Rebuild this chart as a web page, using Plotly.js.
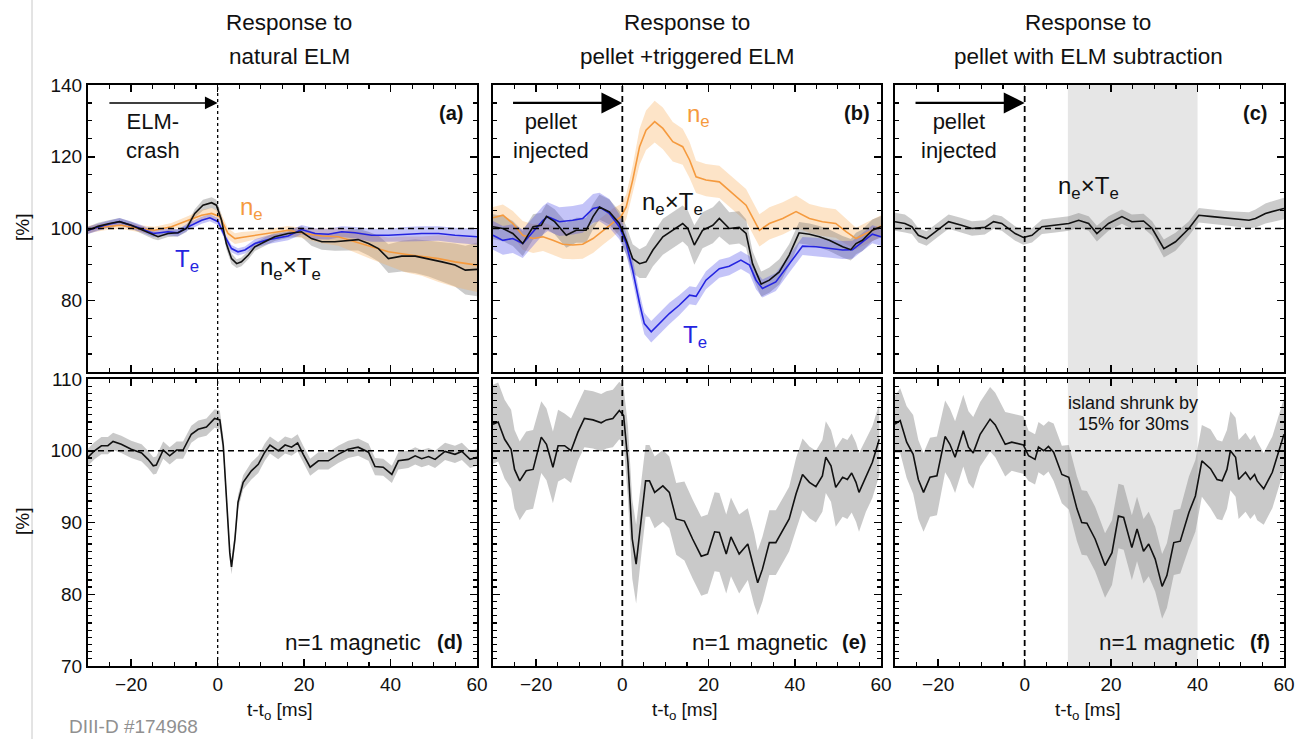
<!DOCTYPE html>
<html><head><meta charset="utf-8">
<script src="https://cdn.plot.ly/plotly-3.0.1.min.js"></script>
<style>html,body{margin:0;padding:0;background:#fff}#chart{width:1307px;height:739px}</style>
</head><body><div id="chart"></div>
<script>
// ---------------- DATA ----------------
// Panel (a): natural ELM
const aPx = [-30,-27.7,-25,-22.7,-20,-17.3,-14.9,-13.8,-11.5,-9.2,-7.2,-5.3,-3.4,-1.4,-0.3,0.9,2,3.2,4.4,5.5,7.1,8.6,10.9,13.2,16.3,19.4,21.7,24.1,27.1,30.2,32.5,34.9,37.2,39.5,42.6,45.7,48.8,51.9,54.9,57.3,60];
const aPy = [99.5,100.6,101.4,101.9,100.9,99.5,98.1,97.7,98.6,98.8,100,104.2,106.5,107.2,106.5,102.3,95.8,91.6,90.2,90.7,92.6,94.9,96.3,97.7,98.6,99.1,97.2,96.3,96.3,96.7,96.9,95.8,94.4,91.6,92.3,92.3,91.6,90.7,89.8,88.4,88.6];
const aPe = [1,1,1,1,1,1,1,1,1,1,1,1.2,1.5,1.5,1.5,1.5,1.5,1.5,1.2,1.2,1.2,1.2,1.2,1.2,1.2,1.5,2,2.2,2.5,2.8,3,3.3,3.6,4,4.3,4.7,5,5.5,6,6.8,7.5];
const aNx = [-30,-26.1,-22.3,-18.4,-14.6,-10.7,-6.8,-3.7,-1.4,0.5,2.4,4,5.5,8.6,12.5,16.3,20.2,24.1,27.9,31.8,35.6,39.5,43.4,47.2,51.1,54.9,60];
const aNy = [99.7,100.5,100.9,100,99.5,100.5,102.3,103.7,104.2,103.3,98.6,97.2,97.5,98.1,98.8,99.5,98.6,97.9,97.7,96.3,94.9,93.5,92.8,92.3,91.6,90.7,89.8];
const aNe = [1,1,1,1,1,1,1.2,1.5,1.5,1.5,1.5,1.5,1.5,1.2,1.2,1.2,1.5,2,2.5,3,3.5,4,5,5.5,6.5,7,7.5];
const aTx = [-30,-26.1,-22.7,-18.4,-14.9,-11.5,-9.2,-6.8,-3.7,-1.8,0.1,1.7,3.2,4.7,6.3,8.6,11.7,16.3,19.4,22.5,25.6,28.7,31.8,35.6,39.5,43.4,47.2,51.1,54.9,60];
const aTy = [99.5,100.9,101.9,100.3,98.6,99.1,98.8,100.5,102.3,103,101.9,97.7,94.4,93.5,94,95.8,96.9,97.9,99.7,98.6,98.4,99.1,98.8,98.1,98.1,98.4,98.6,98.6,98.1,97.7];
const aTe = [1,1,1,1,1,1,1,1,1,1,1,1,1,1,1,1.2,1.2,1.2,1.3,1.5,1.5,1.5,1.6,1.8,1.8,2,2,2,2.1,2.2];

// Panel (b): pellet + triggered ELM
const bNx = [-30,-27.7,-25.4,-23.1,-20.7,-18.4,-16.1,-13.8,-11.5,-9.2,-6.8,-4.5,-2.2,-0.3,0.9,2.4,4,5.5,7.5,9.4,11.7,14,15.6,17.1,19.4,22.5,25.6,28.7,31.8,34.1,37.2,40.3,43.4,46.4,49.5,51.9,54.2,57.3,60];
const bNy = [103,103.7,101.4,98.1,97.2,97.7,96.7,95.6,95.4,95.6,97.2,99.5,101.6,103.3,106,113.5,122.8,127.4,129.8,127.9,124.2,122.8,119.1,114.4,113.5,113,109.8,106.5,99.5,101.4,102.8,104.7,102.8,101.9,101.4,99.1,97.2,99.1,100.7];
const bNe = [3,3,3.5,4,4,4,4,4,4,4,4,4,4,3.5,3.5,4,5,5.5,5.8,5.8,5.5,5,5,4.5,4.5,4.5,4.5,4.5,4.5,4.5,4.5,4.5,4,4,4,3.5,3,3,3];
const bTx = [-30,-27.7,-25.4,-23.1,-20.7,-18.4,-17.3,-14.6,-11.5,-9.2,-6.8,-5.3,-3,-0.7,0.9,2.4,4,5.1,6.7,8.6,10.9,13.2,15.6,17.1,19.4,22.5,24.8,27.5,29.5,31,32.5,35.6,38.7,41.8,44.9,48,51.1,53.4,55.7,58,60];
const bTy = [98.1,96.7,97.2,95.8,99.1,102.3,103.3,101.9,102.3,102.8,105.6,106,104.2,100.5,95.8,88.4,79.1,73.5,71.2,73.5,76.3,78.6,81.4,81.1,85.6,88.8,89.5,91.2,89.8,85.6,83.3,85.1,90.2,95.1,94.9,94.4,94,94.1,96.3,98.4,97.7];
const bTe = [4,4,4,4,4,4,4,4,4,4,4,4,4,3.5,3,3,3,3,3,3,3,2.8,2.5,2.5,2.5,2.5,2.5,2.5,2.5,2.5,2.5,2.5,2.5,2.5,2.5,2.5,2.5,2.5,2.5,2.5,2.5];
const bPx = [-30,-27.7,-25.4,-23.1,-20.7,-18.8,-17.6,-15.7,-13,-10.7,-8.4,-6.8,-5.3,-3,-0.7,0.9,2.4,4,5.5,7.1,9.4,11.7,14,15.2,16.7,18.6,21,22.5,24.8,27.1,28.7,30.2,32.2,34.1,36.4,38.7,41,43.4,45.7,48,51.1,53,54.2,55.7,58,60];
const bPy = [100.5,100,98.6,95.8,100.5,100.9,103.4,101.9,98.1,99.5,99.5,103.3,106,104.6,101.4,96.7,91.6,90.2,90.7,94,97.7,99.5,101.4,100,95.4,99.5,100.9,102.8,100,100.3,98.6,90.2,84.5,85.6,87.9,92.6,98.8,98.4,97.7,96.7,94.9,94.1,95.8,96.7,99.5,100.5];
const bPe = [3.5,3.5,3.5,3.5,3.5,3.5,3.5,3.5,3.5,3.5,3.5,3.5,3.5,3.5,3.5,4,4,4,4.5,4.5,5,5,5,5,5.5,5,5,5,4.5,4.5,4,3.5,3.5,3.5,3.5,3,3,3,3,3,3,3,3,3,3,3];

// Panel (c): pellet with ELM subtraction
const cPx = [-30,-27.7,-26.1,-24.6,-22.7,-20.7,-17.6,-14.6,-12.2,-9.2,-7.2,-5.3,-2.2,-0.3,1.7,4,7.1,10.2,12.5,14.8,16.7,19.4,22.5,24.8,27.5,29.5,32.2,34.9,38,40.3,43.4,47.2,51.9,53.4,55.7,60];
const cPy = [101.9,101.4,100.5,98.1,97.2,99.1,101.9,100.9,100,100.3,101.9,101.4,98.6,97.5,98.1,100.5,100.9,101.4,102.3,101.4,98.6,101.4,103.3,101.9,102.1,100,94.4,96.3,100,103.7,103.3,102.8,102.3,102.8,104.2,105.6];
const cPe = [2.5,2.5,2,2,2,2,2,2,2,2,2,2,2,2,2,2,2,2,2,2,2.2,2,2,2,2,2,2.5,2.5,2,2,2,2,2.2,2.5,2.8,3];

// Panel (d): n=1 magnetic, natural ELM
const dX = [-30,-28.5,-26.9,-25.4,-24.2,-22.3,-20,-17.6,-16.1,-14.9,-14.2,-12.6,-11.1,-9.5,-8,-6.1,-4.5,-2.6,-0.7,0.5,1.3,2,2.8,3.2,4,4.7,5.9,7.8,9.4,10.9,12.1,14,15.6,17.1,18.5,19.8,21.4,23.3,25.6,27.9,30.2,32.5,34.9,36.4,38.3,40.3,41.8,44.1,45.7,47.2,48.8,50.3,52.6,54.9,56.5,58.4,60];
const dY = [99.1,100,100.7,100.7,101.3,100.9,100.2,99.7,98.8,97.9,98,100.1,99.3,100.1,100.1,102.3,103,103.3,104.5,104.3,100.7,93.7,85.8,83.8,87.7,92.8,95.6,97.2,98.1,99.8,100.8,100,100.8,100.5,101.1,99.5,97.7,98.6,98.6,99.5,100.2,100.5,99.8,97.8,97.7,96.7,98.6,98.8,99.3,98.9,99.2,98.8,99.9,99.5,99.9,98.8,99.1];
const dE = [1.2,1.2,1.2,1.2,1.2,1.2,1.2,1.2,1.2,1.2,1.2,1.2,1.2,1.2,1.2,1.2,1.2,1.2,1.3,1.3,1.2,1,1,1,1,1,1,1.2,1.2,1.2,1.2,1.2,1.2,1.2,1.2,1.2,1.2,1.2,1.2,1.2,1.2,1.2,1.2,1.2,1.2,1.2,1.2,1.2,1.2,1.2,1.2,1.2,1.2,1.2,1.2,1.2,1.2];

// Panel (e): n=1 magnetic, pellet + triggered ELM
const eX = [-30,-28.8,-27.3,-25.8,-25,-23.8,-22.3,-20.7,-18.8,-17.6,-16.1,-14.9,-13.4,-11.9,-10.3,-8.8,-6.8,-4.9,-3.7,-2.2,-0.7,0.3,1.3,2.3,3.2,4.4,5.4,6.3,7.5,9.4,10.9,12.5,14.4,16.3,18.3,19.8,21.4,22.5,24.1,25.2,27.1,29.1,30.6,31.4,32.5,34.1,35.6,37.6,38.7,40.3,41.8,43.4,44.9,46.4,47.2,48.4,49.5,51.1,52.2,53.2,54.2,54.9,56.5,58,59.6];
const eY = [103.7,104,101.6,100.2,97.4,95.8,97.2,97.4,101.9,100.9,97.7,100.7,100.7,100,102.6,104.5,104.3,103.9,104.3,104.5,105.6,104.9,98.4,87.7,84.2,90.5,95.8,95.8,94.2,95.1,94.2,90.5,90.2,87.7,85.3,85.6,88.7,88.6,85.6,88,85.6,87,83.5,81.6,83.5,87.2,87.2,89.3,90.5,94,96.7,95.6,95,96.5,99.1,97.9,94.9,96.3,96,96.9,95.6,94.2,96.5,98.4,101.6];
const eE = [5.5,5.5,5.5,5.5,5.5,5.5,5.5,5.5,5,5,5,5,4.5,4.5,4,4,4,4,4,4,4,4,5,5.5,5.5,5,5,5,5,5,5,5,5.5,5.5,5.5,5.5,5.5,5.5,5.5,5.5,5.5,5,5,4.5,4.5,4.5,4.5,4.5,4.5,5,5,5,5,5,5,5,5.5,5.5,5.5,5.5,5.5,5.5,5,5,5];

// Panel (f): n=1 magnetic, pellet with ELM subtraction
const fX = [-30,-28.8,-27.3,-25.8,-24.6,-23.4,-21.9,-20.3,-18.4,-17.3,-16.1,-14.2,-13,-11.9,-10.3,-8,-6.8,-4.5,-3,-0.3,0.9,2.4,3.2,4.4,5.5,6.7,8.6,10.2,12.1,13.2,14.4,16.3,18.6,20.2,21.7,22.9,24.8,26,27.5,28.7,30.2,31.8,32.9,34.5,36,38,39.5,41,43,44.5,45.7,46.8,47.6,48.8,49.5,51.1,52.2,53.2,53.8,55.3,57.3,58.8,60];
const fY = [103.7,104.2,101.2,99.5,96,94.2,96.3,96.5,102,100.9,99.1,102.8,100.5,99.7,102.3,104.4,103.6,100.9,101.2,100.8,99.3,98.8,100.5,100,100.6,99.8,96.7,96.3,91.9,90,89.9,87.7,84,85.8,90.9,90.7,86.5,89.1,86,87,84.9,81.1,82.6,87.2,87.4,91.4,93.7,98.6,97.5,96,95.8,97.4,100,99.1,96,97,96,96.7,95.8,94.7,97,99.8,102.3];
const fE = [4,4.5,5,5.5,5.5,5.5,5.5,5.5,5,5,5,5,5,5,4.5,4.5,4.5,4.5,4,4,3.5,3.5,3.5,3.5,3.5,4,4,4.5,4.5,4.5,4.5,4.5,4.5,4.5,4.5,4.5,4.5,4.5,4.5,4.5,4.5,4.5,4.5,4.5,4.5,5,5,5,5.5,5.5,5.5,5.5,5.5,5.5,5.5,5.5,5.5,5.5,5.5,5,5,5,5];

const xRange = [-30, 60];
const topRange = [60, 140], topTicks = [80, 100, 120, 140];
const botRange = [70, 110], botTicks = [70, 80, 90, 100, 110];
const shrinkWindow = [10, 40];

// ---------------- STYLE / LAYOUT ----------------
const W = 1307, H = 739;
const PX = v => v / W, PY = v => 1 - v / H;
const FONT = 'Liberation Sans, Arial, Helvetica, sans-serif';
const ORANGE = '#f59a3e', ORANGE_F = 'rgba(250,172,88,0.33)';
const BLUE = '#2424e0', BLUE_F = 'rgba(60,60,232,0.30)';
const BLACK = '#111111', GRAY_F = 'rgba(110,110,110,0.36)', GRAY_F2 = 'rgba(135,135,135,0.45)';

function band(x, y, e, xa, ya, color) {
  const up = y.map((v, i) => v + e[i]);
  const lo = y.map((v, i) => v - e[i]);
  return {x: x.concat(x.slice().reverse()), y: up.concat(lo.slice().reverse()),
    xaxis: xa, yaxis: ya, type: 'scatter', mode: 'lines', fill: 'toself', fillcolor: color,
    line: {width: 0}, hoverinfo: 'skip', showlegend: false};
}
function curve(x, y, xa, ya, color, w) {
  return {x: x, y: y, xaxis: xa, yaxis: ya, type: 'scatter', mode: 'lines',
    line: {color: color, width: w || 1.6}, showlegend: false};
}

const traces = [
  band(aPx, aPy, aPe, 'x', 'y', GRAY_F), band(aNx, aNy, aNe, 'x', 'y', ORANGE_F), band(aTx, aTy, aTe, 'x', 'y', BLUE_F),
  curve(aNx, aNy, 'x', 'y', ORANGE), curve(aTx, aTy, 'x', 'y', BLUE), curve(aPx, aPy, 'x', 'y', BLACK),
  band(bNx, bNy, bNe, 'x2', 'y2', ORANGE_F), band(bPx, bPy, bPe, 'x2', 'y2', GRAY_F), band(bTx, bTy, bTe, 'x2', 'y2', BLUE_F),
  curve(bNx, bNy, 'x2', 'y2', ORANGE), curve(bTx, bTy, 'x2', 'y2', BLUE), curve(bPx, bPy, 'x2', 'y2', BLACK),
  band(cPx, cPy, cPe, 'x3', 'y3', GRAY_F), curve(cPx, cPy, 'x3', 'y3', BLACK),
  band(dX, dY, dE, 'x4', 'y4', GRAY_F2), curve(dX, dY, 'x4', 'y4', BLACK),
  band(eX, eY, eE, 'x5', 'y5', GRAY_F2), curve(eX, eY, 'x5', 'y5', BLACK),
  band(fX, fY, fE, 'x6', 'y6', GRAY_F2), curve(fX, fY, 'x6', 'y6', BLACK)
];

const xDom = [[88, 477], [493, 881], [895, 1284]];
const yDomTop = [PY(372), PY(85)], yDomBot = [PY(666), PY(379)];
const tickFont = {family: FONT, size: 19, color: '#111'};

function xAxis(i, anchor, labels) {
  return {domain: [PX(xDom[i][0]), PX(xDom[i][1])], anchor: anchor, range: xRange,
    tick0: 0, dtick: 20, ticks: 'inside', ticklen: 7, tickwidth: 1.5, tickcolor: '#000',
    showline: true, linewidth: 2, linecolor: '#000', mirror: 'ticks', showgrid: false, zeroline: false,
    showticklabels: labels, tickfont: tickFont, fixedrange: true,
    minor: {dtick: 5, tick0: 0, ticks: 'inside', ticklen: 4, tickwidth: 1.2, tickcolor: '#000', showgrid: false}};
}
function yAxis(dom, anchor, range, vals, mdt, labels) {
  return {domain: dom, anchor: anchor, range: range, tickmode: 'array', tickvals: vals,
    ticks: 'inside', ticklen: 7, tickwidth: 1.5, tickcolor: '#000',
    showline: true, linewidth: 2, linecolor: '#000', mirror: 'ticks', showgrid: false, zeroline: false,
    showticklabels: labels, tickfont: tickFont, fixedrange: true,
    minor: {dtick: mdt, tick0: 0, ticks: 'inside', ticklen: 4, tickwidth: 1.2, tickcolor: '#000', showgrid: false}};
}

const shapes = [];
// grey time window in (c) and (f)
[['x3', 'y3'], ['x6', 'y6']].forEach(([xa, ya]) => {
  shapes.push({type: 'rect', xref: xa, yref: ya + ' domain', x0: shrinkWindow[0], x1: shrinkWindow[1], y0: 0, y1: 1,
    fillcolor: '#e6e6e6', line: {width: 0}, layer: 'below'});
});
// reference lines
const axPairs = [['x', 'y'], ['x2', 'y2'], ['x3', 'y3'], ['x4', 'y4'], ['x5', 'y5'], ['x6', 'y6']];
axPairs.forEach(([xa, ya], i) => {
  const thin = (i === 0 || i === 3);
  shapes.push({type: 'line', xref: xa + ' domain', yref: ya, x0: 0, x1: 1, y0: 100, y1: 100,
    line: {color: '#000', width: 1.5, dash: '6px,4px'}});
  shapes.push({type: 'line', xref: xa, yref: ya + ' domain', x0: 0, x1: 0, y0: 0, y1: 1,
    line: {color: '#000', width: thin ? 1.3 : 1.8, dash: thin ? '3px,3px' : '6px,4px'}});
});
// page margin line
shapes.push({type: 'line', xref: 'paper', yref: 'paper', x0: PX(32), x1: PX(32), y0: 0, y1: 1,
  line: {color: '#c8c8c8', width: 1}});

function txt(x, y, text, size, opts) {
  return Object.assign({xref: 'paper', yref: 'paper', x: PX(x), y: PY(y), text: text, showarrow: false,
    xanchor: 'center', yanchor: 'middle', font: {family: FONT, size: size, color: '#111'}}, opts || {});
}
const NE = 'n<sub>e</sub>', TE = 'T<sub>e</sub>', NETE = 'n<sub>e</sub>×T<sub>e</sub>';
const annotations = [
  txt(289, 23, 'Response to', 22.5), txt(289, 57, 'natural ELM', 22.5),
  txt(687, 23, 'Response to', 22.5), txt(687, 57, 'pellet +triggered ELM', 22.5),
  txt(1088, 23, 'Response to', 22.5), txt(1088, 57, 'pellet with ELM subtraction', 22.5),
  txt(153, 136, 'ELM-<br>crash', 22), txt(551, 136, 'pellet<br>injected', 22), txt(959, 136, 'pellet<br>injected', 22),
  txt(451, 113, '<b>(a)</b>', 20), txt(857, 113, '<b>(b)</b>', 20), txt(1255, 113, '<b>(c)</b>', 20),
  txt(251, 208, NE, 24, {font: {family: FONT, size: 24, color: ORANGE}}),
  txt(187, 260, TE, 24, {font: {family: FONT, size: 24, color: BLUE}}),
  txt(290, 268, NETE, 24),
  txt(698, 115, NE, 24, {font: {family: FONT, size: 24, color: ORANGE}}),
  txt(672, 203, NETE, 24),
  txt(695, 336, TE, 24, {font: {family: FONT, size: 24, color: BLUE}}),
  txt(1088, 188, NETE, 24),
  txt(423, 642, 'n=1 magnetic', 22.5, {xanchor: 'right'}), txt(450, 642, '<b>(d)</b>', 20),
  txt(830, 642, 'n=1 magnetic', 22.5, {xanchor: 'right'}), txt(854, 642, '<b>(e)</b>', 20),
  txt(1237, 642, 'n=1 magnetic', 22.5, {xanchor: 'right'}), txt(1260, 642, '<b>(f)</b>', 20),
  txt(1133, 403, 'island shrunk by', 18), txt(1133, 424, '15% for 30ms', 18),
  txt(279, 711, 't-t<sub>o</sub> [ms]', 19), txt(684, 711, 't-t<sub>o</sub> [ms]', 19), txt(1087, 711, 't-t<sub>o</sub> [ms]', 19),
  txt(22, 228, '[%]', 19, {textangle: -90}), txt(22, 522, '[%]', 19, {textangle: -90}),
  txt(67, 726, 'DIII-D #174968', 19, {xanchor: 'left', font: {family: FONT, size: 19, color: '#909090'}}),
  // arrows
  {xref: 'x', yref: 'y', axref: 'x', ayref: 'y', x: 0, y: 135, ax: -25.4, ay: 135, text: '', showarrow: true,
    arrowhead: 2, arrowsize: 1.7, arrowwidth: 1.5, arrowcolor: '#000', standoff: 0},
  {xref: 'x2', yref: 'y2', axref: 'x2', ayref: 'y2', x: 0, y: 135, ax: -25.7, ay: 135, text: '', showarrow: true,
    arrowhead: 2, arrowsize: 1.9, arrowwidth: 2.2, arrowcolor: '#000', standoff: 0},
  {xref: 'x3', yref: 'y3', axref: 'x3', ayref: 'y3', x: 0, y: 135, ax: -25.6, ay: 135, text: '', showarrow: true,
    arrowhead: 2, arrowsize: 1.9, arrowwidth: 2.2, arrowcolor: '#000', standoff: 0}
];

const layout = {
  width: W, height: H, margin: {l: 0, r: 0, t: 0, b: 0}, paper_bgcolor: '#fff', plot_bgcolor: 'rgba(0,0,0,0)',
  showlegend: false, font: {family: FONT, color: '#111'},
  xaxis: xAxis(0, 'y', false), xaxis2: xAxis(1, 'y2', false), xaxis3: xAxis(2, 'y3', false),
  xaxis4: xAxis(0, 'y4', true), xaxis5: xAxis(1, 'y5', true), xaxis6: xAxis(2, 'y6', true),
  yaxis: yAxis(yDomTop, 'x', topRange, topTicks, 5, true),
  yaxis2: yAxis(yDomTop, 'x2', topRange, topTicks, 5, false),
  yaxis3: yAxis(yDomTop, 'x3', topRange, topTicks, 5, false),
  yaxis4: yAxis(yDomBot, 'x4', botRange, botTicks, 1, true),
  yaxis5: yAxis(yDomBot, 'x5', botRange, botTicks, 1, false),
  yaxis6: yAxis(yDomBot, 'x6', botRange, botTicks, 1, false),
  shapes: shapes, annotations: annotations
};

Plotly.newPlot('chart', traces, layout, {staticPlot: true, displayModeBar: false});
</script></body></html>
